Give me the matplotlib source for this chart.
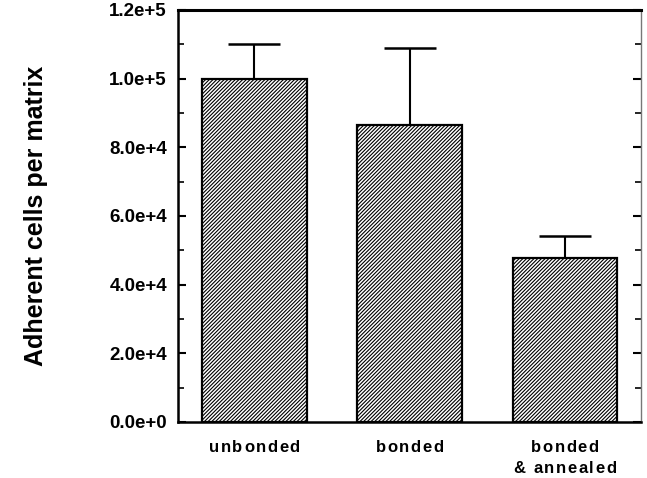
import numpy as np
import matplotlib.pyplot as plt
from matplotlib.ticker import MultipleLocator, FuncFormatter
from matplotlib.transforms import offset_copy
from matplotlib.font_manager import FontProperties
from matplotlib.textpath import TextToPath

groups = ["unbonded", "bonded", "bonded\n& annealed"]
cells = [1.0e5, 8.65e4, 4.78e4]
err_up = [1.0e4, 2.25e4, 0.64e4]

plt.rcParams["font.family"] = ["Liberation Sans", "DejaVu Sans"]
plt.rcParams["hatch.linewidth"] = 0.8


def sci_label(v, pos):
    if v <= 0:
        return "0.0e+0"
    e = int(np.floor(np.log10(v) + 1e-9))
    return "{:.1f}e+{:d}".format(v / 10 ** e, e)


def spaced_text(ax, x, y, s, size=12, tracking=1.1):
    # letter-spaced label: natural glyph advances plus extra tracking (points)
    prop = FontProperties(family="Liberation Sans", weight="bold", size=size)
    t2p = TextToPath()
    widths = [t2p.get_text_width_height_descent(ch, prop, ismath=False)[0]
              for ch in s]
    total = sum(widths) + tracking * (len(s) - 1)
    pos = -total / 2
    for ch, w in zip(s, widths):
        tr = offset_copy(ax.get_xaxis_transform(), fig=fig, x=pos, y=0,
                         units="points")
        ax.text(x, y, ch, transform=tr, ha="left", va="center",
                fontproperties=prop)
        pos += w + tracking


fig = plt.figure(figsize=(6.47, 4.78), dpi=100)
ax = fig.add_axes([178 / 647, 1 - 422 / 478, 463 / 647, 412 / 478])

x = np.arange(len(groups))
ax.bar(x, cells, width=0.675, color="white", edgecolor="black",
       linewidth=1.6, hatch="/" * 9, zorder=2)
ax.errorbar(x, cells, yerr=[np.zeros(len(err_up)), err_up], fmt="none",
            ecolor="black", elinewidth=1.5, capsize=19, capthick=1.8, zorder=1)

ax.set_xlim(-0.492, 2.49)
ax.set_ylim(0, 1.2e5)
ax.yaxis.set_major_locator(MultipleLocator(2e4))
ax.yaxis.set_minor_locator(MultipleLocator(1e4))
ax.yaxis.set_major_formatter(FuncFormatter(sci_label))
ax.tick_params(axis="y", which="both", direction="in", right=True,
               labelsize=13.5, pad=8)
ax.tick_params(axis="y", which="major", length=6, width=1.5)
ax.tick_params(axis="y", which="minor", length=4, width=1.2)
ax.tick_params(axis="x", bottom=False, labelbottom=False)
for lab in ax.get_yticklabels():
    lab.set_fontweight("bold")

for side in ["left", "bottom"]:
    ax.spines[side].set_linewidth(1.8)
ax.spines["top"].set_linewidth(2.2)
ax.spines["right"].set_linewidth(1.0)
ax.spines["right"].set_color("#777777")

for xi, g in zip(x, groups):
    lines = g.split("\n")
    spaced_text(ax, xi, -0.062, lines[0])
    if len(lines) > 1:
        spaced_text(ax, xi, -0.112, lines[1])

ax.set_ylabel("Adherent cells per matrix", fontsize=18, fontweight="bold",
              labelpad=44)

fig.savefig("out.png", dpi=100)
